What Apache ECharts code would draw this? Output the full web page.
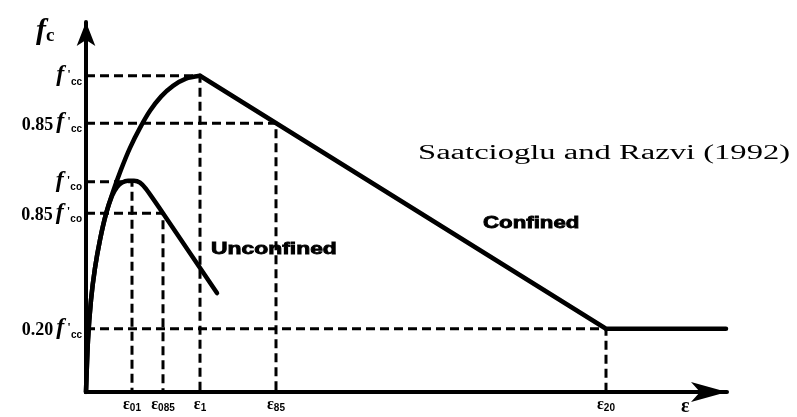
<!DOCTYPE html>
<html>
<head>
<meta charset="utf-8">
<script src="https://cdn.jsdelivr.net/npm/echarts@6/dist/echarts.min.js"></script>
<style>
  html, body { margin: 0; padding: 0; background: #fff; }
  #chart { width: 797px; height: 417px; }
</style>
</head>
<body>
<div id="chart"></div>
<script>
// Strain in arbitrary units, stress normalised by f'cc.
const strainTicks = [4.6, 7.7, 11.4, 19.0, 52.0];
const strainTickLabels = ['ε01', 'ε085', 'ε1', 'ε85', 'ε20'];

const stressTicks = [0.2, 0.565, 0.665, 0.85, 1.0];
const stressTickLabels = ["0.20 f'cc", "0.85 f'co", "f'co", "0.85 f'cc", "f'cc"];

// each dashed guide joins a stress level to its strain
const guideStress = [1.0, 0.85, 0.2, 0.665, 0.565];
const guideStrain = [11.4, 19.0, 52.0, 4.6, 7.7];

// confined concrete: ascending branch, then linear softening to 0.2 f'cc
const confinedRise = [[0, 0], [0.2, 0.165], [0.5, 0.291], [0.9, 0.392], [1.4, 0.481],
  [2.0, 0.563], [2.7, 0.633], [3.5, 0.703], [4.4, 0.772], [5.4, 0.835], [6.4, 0.889],
  [7.5, 0.934], [8.7, 0.968], [10.0, 0.991], [11.4, 1.0]];
const confinedFall = [[11.4, 1.0], [52.0, 0.2], [64.0, 0.2]];

// unconfined concrete
const unconfinedCurve = [[0, 0], [0.2, 0.165], [0.5, 0.291], [0.9, 0.392], [1.4, 0.481],
  [2.0, 0.563], [2.6, 0.620], [3.1, 0.648], [3.6, 0.662], [4.2, 0.668], [4.8, 0.668],
  [5.4, 0.662], [6.0, 0.642], [7.7, 0.565], [13.1, 0.313]];

const INK = '#000';

function stressLabel(value) {
  const i = stressTicks.findIndex(v => Math.abs(v - value) < 1e-6);
  if (i < 0) return '';
  const m = stressTickLabels[i].match(/^([\d.]+ )?f'(\w+)$/);
  return (m[1] ? '{n|' + m[1].trim() + '}' : '') + "{f|f}{p|'}{s|" + m[2] + '}';
}
function strainLabel(value) {
  const i = strainTicks.findIndex(v => Math.abs(v - value) < 1e-6);
  if (i < 0) return '';
  return '{e|ε}{s|' + strainTickLabels[i].slice(1) + '}';
}

const guideSeries = guideStress.map((s, i) => ({
  type: 'line',
  data: [[0, s], [guideStrain[i], s], [guideStrain[i], 0]],
  symbol: 'none',
  silent: true,
  z: 1,
  lineStyle: { color: INK, width: 3, type: [9, 5] }
}));

const curveStyle = { color: INK, width: 4.5, cap: 'round', join: 'round' };

const chart = echarts.init(document.getElementById('chart'), null, { renderer: 'canvas' });
chart.setOption({
  animation: false,
  backgroundColor: '#fff',
  grid: { left: 86, right: 70, top: 22, bottom: 25, containLabel: false },
  xAxis: {
    type: 'value', min: 0, max: 64.1,
    splitLine: { show: false },
    axisTick: { show: false },
    axisLine: { show: true, onZero: false, symbol: ['none', 'arrow'], symbolSize: [15, 36],
      lineStyle: { color: INK, width: 4 } },
    axisLabel: {
      customValues: strainTicks, margin: 6, color: INK,
      formatter: strainLabel,
      rich: {
        e: { fontFamily: 'Liberation Serif', fontWeight: 'bold', fontSize: 16, color: INK,
          verticalAlign: 'bottom', lineHeight: 15 },
        s: { fontFamily: 'Liberation Sans', fontWeight: 'bold', fontSize: 10, color: INK,
          verticalAlign: 'bottom', lineHeight: 8 }
      }
    }
  },
  yAxis: {
    type: 'value', min: 0, max: 1.17,
    splitLine: { show: false },
    axisTick: { show: false },
    axisLine: { show: true, onZero: false, symbol: ['none', 'arrow'], symbolSize: [14, 24],
      lineStyle: { color: INK, width: 4 } },
    axisLabel: {
      customValues: stressTicks, margin: 4, color: INK,
      formatter: stressLabel,
      rich: {
        n: { fontFamily: 'Liberation Serif', fontWeight: 'bold', fontSize: 18, color: INK,
          verticalAlign: 'bottom', lineHeight: 22, padding: [0, 3, 0, 0] },
        f: { fontFamily: 'Liberation Serif', fontStyle: 'italic', fontWeight: 'bold', fontSize: 24,
          color: INK, verticalAlign: 'bottom', lineHeight: 22 },
        p: { fontFamily: 'Liberation Serif', fontWeight: 'bold', fontSize: 13, color: INK,
          verticalAlign: 'bottom', lineHeight: 22, padding: [0, 0, 6, 3] },
        s: { fontFamily: 'Liberation Sans', fontWeight: 'bold', fontSize: 10, color: INK,
          verticalAlign: 'bottom', lineHeight: 8 }
      }
    }
  },
  series: guideSeries.concat([
    { type: 'line', name: 'Confined', data: confinedRise, symbol: 'none', smooth: 0.25,
      silent: true, z: 3, lineStyle: curveStyle },
    { type: 'line', name: 'Confined', data: confinedFall, symbol: 'none', silent: true, z: 3,
      lineStyle: curveStyle },
    { type: 'line', name: 'Unconfined', data: unconfinedCurve, symbol: 'none', smooth: 0.25,
      silent: true, z: 3, lineStyle: curveStyle }
  ]),
  graphic: [
    { type: 'text', x: 36, y: 16, silent: true,
      style: { text: '{f|f}{s|c}', textVerticalAlign: 'top',
        rich: {
          f: { fontFamily: 'Liberation Serif', fontStyle: 'italic', fontWeight: 'bold', fontSize: 30,
            fill: INK, verticalAlign: 'bottom', lineHeight: 30 },
          s: { fontFamily: 'Liberation Serif', fontWeight: 'bold', fontSize: 19, fill: INK,
            verticalAlign: 'bottom', lineHeight: 20 }
        } } },
    { type: 'text', x: 681, y: 397, silent: true,
      style: { text: 'ε', fontFamily: 'Liberation Serif', fontWeight: 'bold', fontSize: 20,
        fill: INK, textVerticalAlign: 'top' } },
    { type: 'text', x: 211, y: 242, scaleX: 1.43, silent: true,
      style: { text: 'Unconfined', fontFamily: 'Liberation Sans', fontWeight: 'bold', fontSize: 16,
        fill: INK, stroke: INK, lineWidth: 0.8, textVerticalAlign: 'top' } },
    { type: 'text', x: 483, y: 216, scaleX: 1.39, silent: true,
      style: { text: 'Confined', fontFamily: 'Liberation Sans', fontWeight: 'bold', fontSize: 16,
        fill: INK, stroke: INK, lineWidth: 0.8, textVerticalAlign: 'top' } },
    { type: 'text', x: 418, y: 144, scaleX: 1.63, silent: true,
      style: { text: 'Saatcioglu and Razvi (1992)', fontFamily: 'Liberation Serif', fontSize: 20,
        fill: INK, textVerticalAlign: 'top' } }
  ]
});
</script>
</body>
</html>
